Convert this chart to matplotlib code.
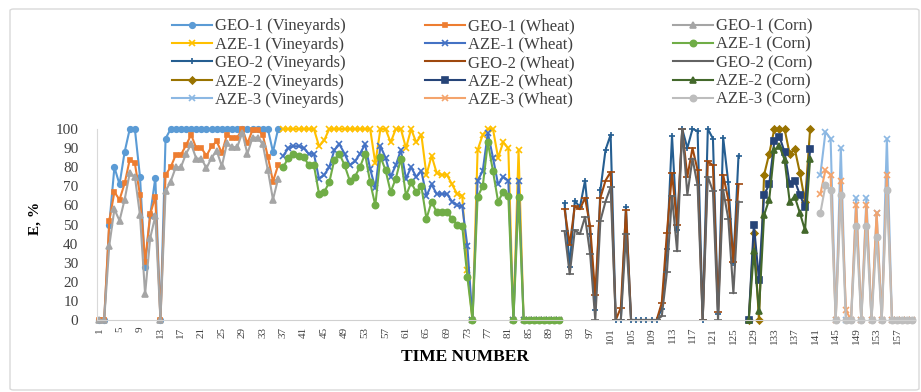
import matplotlib
matplotlib.use("Agg")
import matplotlib.pyplot as plt
from matplotlib.patches import FancyBboxPatch

plt.rcParams['font.family'] = ['Liberation Serif', 'DejaVu Serif']

# ---------------- data ----------------
tick_numbers = list(range(1, 158, 4))

geo1_time = list(range(1, 37))
geo1_vineyards = [0, 0, 50, 80, 71, 88, 100, 100, 75, 28, 55, 74.5, 0, 95,
                  100, 100, 100, 100, 100, 100, 100, 100, 100, 100,
                  100, 100, 100, 100, 100, 100, 100, 100, 100, 100, 88, 100]
geo1_wheat = [0, 0, 52, 67, 63, 71.5, 84, 82, 65.5, 30.5, 55.5, 64.5, 0,
              76, 80, 86.5, 86.5, 91.5, 97, 90, 90, 86, 91, 93.5, 87.5, 97,
              95.5, 95.5, 100, 92.5, 99.5, 99.5, 97, 85.5, 72.5, 81]
geo1_corn = [0, 0, 39, 58, 52, 63, 77, 75, 55, 13.5, 43, 54.5, 0,
             67.5, 72.5, 80, 80, 87, 92, 84.5, 84.5, 79.5, 85, 88.5, 80.5, 92.5,
             90.5, 90.5, 98, 87, 95.5, 95.5, 92, 78.5, 63, 74]

aze1_time = list(range(37, 92))
aze1_vineyards = [100, 100, 100, 100, 100, 100, 100, 91, 94, 100,
                  100, 100, 100, 100, 100, 100, 100, 100, 82, 100,
                  100, 93, 100, 100, 90, 100, 93, 97, 76, 86,
                  77, 76, 76, 71, 66, 65, 26, 0, 89, 97,
                  100, 100, 85, 93, 90, 0, 89, 0, 0, 0,
                  0, 0, 0, 0, 0]
aze1_wheat = [86, 90, 91, 91, 90, 87, 87, 74, 76, 80,
              89, 92, 87, 81, 83, 87, 92, 79, 69, 91,
              85, 75, 81, 89, 74, 80, 75, 78, 65, 71,
              66, 66, 66, 62, 60, 59.5, 38.5, 0, 73, 78,
              98, 85, 71, 75, 73, 0, 73, 0, 0, 0,
              0, 0, 0, 0, 0]
aze1_corn = [80, 85, 87, 86, 85.5, 81, 81, 66, 67, 72,
             84, 87, 81, 73, 75, 80, 87, 72, 60, 85.5,
             78.5, 67, 74, 84.5, 65, 72, 67, 70, 53, 62,
             56.5, 56.5, 56.5, 53, 50, 49, 22.5, 0, 64.5, 70,
             93, 78, 62, 67, 65, 0, 64.5, 0, 0, 0,
             0, 0, 0, 0, 0]

geo2_time = list(range(92, 127))
geo2_vineyards = [61, 28, 62.5, 59, 73, 45, 5, 68, 89, 97,
                  0, 0, 59, 0, 0, 0, 0, 0, 0,
                  6, 37, 96.5, 47, 100, 90, 100, 99, 0, 100,
                  95, 3, 95.5, 72, 30, 86]
geo2_wheat = [58, 39.5, 59.5, 58, 64, 49, 13, 64, 73, 77.5,
              0, 6.5, 57.5, 0, 0, 0, 0, 0, 0,
              9, 45.5, 77, 49.7, 100, 75, 90, 78.5, 0, 83,
              81, 4.4, 76, 63, 30.5, 71]
geo2_corn = [46.5, 24, 47, 45, 54, 34.5, 0, 52, 62, 69.5,
             0, 0, 45, 0, 0, 0, 0, 0, 0,
             2, 25, 65, 36, 100, 65.5, 84.5, 70.5, 0, 75,
             67.5, 0, 68, 53, 14, 62]

aze2_time = list(range(128, 141))
aze2_vineyards = [0, 45.5, 0, 76, 87, 100, 100, 100, 87, 89.5, 77, 62, 100]
aze2_wheat = [0, 50, 21, 65.5, 71, 93.5, 96, 88, 71, 73, 65.5, 59, 89.5]
aze2_corn = [0, 36, 4.5, 55, 63, 89, 91, 84, 62, 64.5, 56, 47, 84.5]

aze3_time = list(range(142, 161))
aze3_vineyards = [76, 98.5, 95, 0, 90, 0, 0, 64, 0, 64, 0, 56, 0, 95, 0, 0, 0, 0, 0]
aze3_wheat = [66, 78.5, 76, 0, 73, 5, 0, 60, 0, 60, 0, 56, 0, 76, 0, 0, 0, 0, 0]
aze3_corn = [56, 70.5, 68, 0, 65.5, 0, 0, 49, 0, 49, 0, 43.5, 0, 68, 0, 0, 0, 0, 0]

# ---------------- style ----------------
series = [
    ("GEO-1 (Vineyards)", geo1_time, geo1_vineyards, "#5B9BD5", "o", 4),
    ("GEO-1 (Wheat)", geo1_time, geo1_wheat, "#ED7D31", "s", 3.5),
    ("GEO-1 (Corn)", geo1_time, geo1_corn, "#A5A5A5", "^", 4),
    ("AZE-1 (Vineyards)", aze1_time, aze1_vineyards, "#FFC000", "x", 4),
    ("AZE-1 (Wheat)", aze1_time, aze1_wheat, "#4472C4", "x", 4),
    ("AZE-1 (Corn)", aze1_time, aze1_corn, "#70AD47", "o", 4.5),
    ("GEO-2 (Vineyards)", geo2_time, geo2_vineyards, "#255E91", "+", 5),
    ("GEO-2 (Wheat)", geo2_time, geo2_wheat, "#9E480E", "_", 6),
    ("GEO-2 (Corn)", geo2_time, geo2_corn, "#636363", "_", 6),
    ("AZE-2 (Vineyards)", aze2_time, aze2_vineyards, "#997300", "D", 3.5),
    ("AZE-2 (Wheat)", aze2_time, aze2_wheat, "#264478", "s", 4.5),
    ("AZE-2 (Corn)", aze2_time, aze2_corn, "#43682B", "^", 4),
    ("AZE-3 (Vineyards)", aze3_time, aze3_vineyards, "#8CB8E3", "x", 4),
    ("AZE-3 (Wheat)", aze3_time, aze3_wheat, "#F4A46C", "x", 4),
    ("AZE-3 (Corn)", aze3_time, aze3_corn, "#BDBDBD", "o", 4.5),
]

W, H = 921, 392
fig = plt.figure(figsize=(W / 100, H / 100), dpi=100)

border = FancyBboxPatch((10 / W, 1 - 390 / H), 909 / W, 381 / H,
                        boxstyle="round,pad=0,rounding_size=0.004",
                        transform=fig.transFigure, fill=False,
                        edgecolor="#D9D9D9", linewidth=1.0)
fig.patches.append(border)

ax = fig.add_axes([96.5 / W, 1 - 320 / H, (915 - 96.5) / W, 191 / H])

handles = {}
for label, t, vals, color, marker, ms in series:
    ln, = ax.plot(t, vals, color=color, marker=marker, markersize=ms,
                  linewidth=1.5, markeredgewidth=1.2, clip_on=False,
                  label=label)
    handles[label] = ln

ax.set_xlim(0.5, 160.5)
ax.set_ylim(0, 100)
ax.set_yticks(range(0, 101, 10))
ax.set_xticks(tick_numbers)
ax.set_xticklabels([str(v) for v in tick_numbers], rotation=90, fontsize=8,
                   color="#404040")
ax.tick_params(axis='y', length=0, pad=13, labelsize=11, labelcolor="#404040")
ax.tick_params(axis='x', length=0, pad=5)
for side in ("top", "right"):
    ax.spines[side].set_visible(False)
ax.spines["left"].set_color("#D9D9D9")
ax.spines["bottom"].set_color("#D0D0D0")
ax.spines["left"].set_linewidth(0.8)
ax.spines["bottom"].set_linewidth(0.8)

fig.text(35 / W, 1 - 218 / H, "E, %", rotation=90, ha="center", va="center",
         fontsize=11, fontweight="bold")
fig.text(465 / W, 1 - 357 / H, "TIME NUMBER", ha="center", va="center",
         fontsize=12.5, fontweight="bold")

# legend: three columns placed explicitly
columns = [
    (172, ["GEO-1 (Vineyards)", "AZE-1 (Vineyards)", "GEO-2 (Vineyards)",
           "AZE-2 (Vineyards)", "AZE-3 (Vineyards)"]),
    (425, ["GEO-1 (Wheat)", "AZE-1 (Wheat)", "GEO-2 (Wheat)",
           "AZE-2 (Wheat)", "AZE-3 (Wheat)"]),
    (673, ["GEO-1 (Corn)", "AZE-1 (Corn)", "GEO-2 (Corn)",
           "AZE-2 (Corn)", "AZE-3 (Corn)"]),
]
for x0, labels in columns:
    leg = fig.legend([handles[l] for l in labels], labels, loc="upper left",
                     bbox_to_anchor=(x0 / W, 1 - 18.5 / H), frameon=False,
                     fontsize=12, handlelength=2.4, handletextpad=0.2,
                     labelspacing=0.14, borderpad=0, borderaxespad=0)
    for txt in leg.get_texts():
        txt.set_color("#404040")

fig.savefig("out.png", dpi=100)
